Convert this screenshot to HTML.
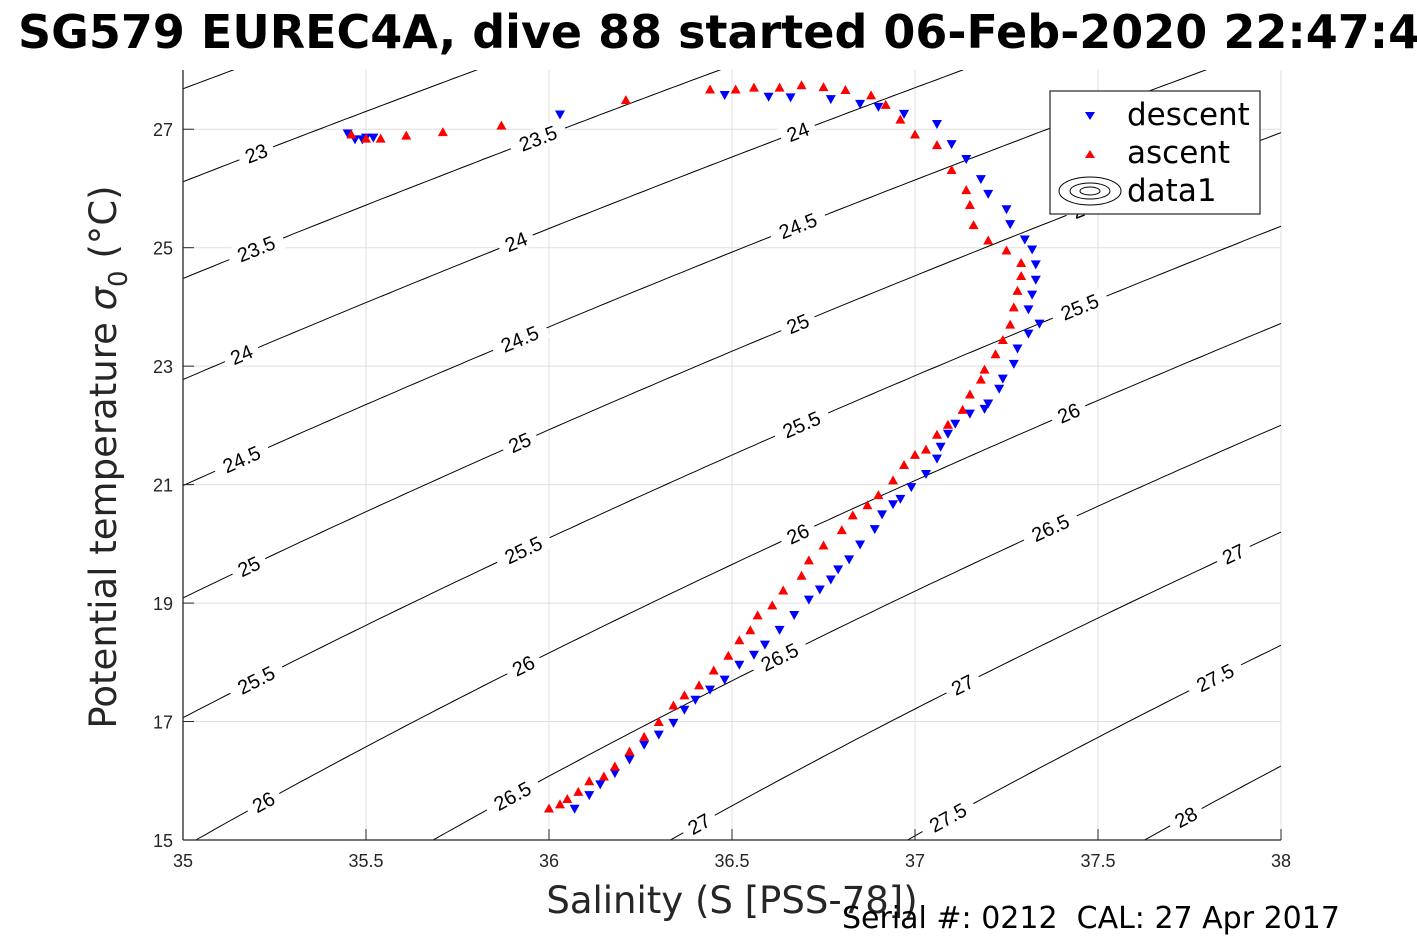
<!DOCTYPE html>
<html><head><meta charset="utf-8"><style>
html,body{margin:0;padding:0;background:#fff;overflow:hidden;}
svg{display:block;font-family:"Liberation Sans","DejaVu Sans",sans-serif;}
</style></head><body>
<svg id="chart" width="1417" height="945" viewBox="0 0 1417 945" xmlns="http://www.w3.org/2000/svg">
<defs><clipPath id="plotclip"><rect x="183" y="70" width="1098" height="770"/></clipPath></defs>
<rect width="1417" height="945" fill="#fff"/>
<text x="18" y="48" font-size="46" font-weight="bold" fill="#000" font-family="DejaVu Sans, sans-serif">SG579 EUREC4A, dive 88 started 06-Feb-2020 22:47:4</text>
<g id="grid"></g>
<g id="contours" clip-path="url(#plotclip)"></g>
<g id="clabels"></g>
<g id="series" clip-path="url(#plotclip)"></g>
<g id="axes"></g>
<text x="732" y="913" font-size="37" fill="#262626" text-anchor="middle" font-family="DejaVu Sans, sans-serif">Salinity (S [PSS-78])</text>
<text transform="translate(116,457) rotate(-90)" font-size="37" fill="#262626" text-anchor="middle" font-family="DejaVu Sans, sans-serif">Potential temperature <tspan font-style="italic">σ</tspan><tspan font-size="26" dy="11">0</tspan><tspan dy="-11"> (°C)</tspan></text>
<text x="842" y="928" font-size="30" fill="#000" font-family="DejaVu Sans, sans-serif" xml:space="preserve" style="white-space:pre">Serial #: 0212  CAL: 27 Apr 2017</text>
<g>
<rect x="1050" y="91" width="210" height="123" fill="#fff" stroke="#262626" stroke-width="1.2"/>
<polygon points="1085,112 1095,112 1090,120" fill="#0000ff"/>
<text x="1127" y="125" font-size="31" font-family="DejaVu Sans, sans-serif">descent</text>
<polygon points="1085,158 1095,158 1090,150" fill="#ff0000"/>
<text x="1127" y="163" font-size="31" font-family="DejaVu Sans, sans-serif">ascent</text>
<g fill="none" stroke="#000" stroke-width="1">
<ellipse cx="1090" cy="191" rx="31" ry="14"/><ellipse cx="1090" cy="191" rx="20" ry="8"/><ellipse cx="1090" cy="191" rx="10" ry="4"/></g>
<text x="1127" y="201" font-size="31" font-family="DejaVu Sans, sans-serif">data1</text>
</g>
</svg>
<script>
const xTicks=[35,35.5,36,36.5,37,37.5,38];
const xTickLabels=["35","35.5","36","36.5","37","37.5","38"];
const yTicks=[15,17,19,21,23,25,27];
const yTickLabels=["15","17","19","21","23","25","27"];
const sigmaLevels=[22.5,23,23.5,24,24.5,25,25.5,26,26.5,27,27.5,28];
const labelLevels=[23,23.5,23.5,24,24,24,24.5,24.5,24.5,25,25,25,25,25.5,25.5,25.5,25.5,26,26,26,26,26.5,26.5,26.5,27,27,27,27.5,27.5,28];
const labelSal=[35.2,35.2,35.97,35.16,35.91,36.68,35.16,35.92,36.68,35.18,35.92,36.68,37.46,35.2,35.93,36.69,37.45,35.22,35.93,36.68,37.42,35.9,36.63,37.37,36.41,37.13,37.87,37.09,37.82,37.74];
const descS=[36.07,36.11,36.14,36.18,36.22,36.26,36.3,36.34,36.37,36.4,
 36.44,36.48,36.52,36.56,36.59,36.63,36.67,36.71,36.74,36.77,
 36.79,36.82,36.85,36.89,36.91,36.94,36.96,36.99,37.03,37.06,
 37.07,37.09,37.11,37.15,37.19,37.2,37.23,37.24,37.27,37.28,
 37.31,37.34,37.31,37.32,37.33,37.33,37.32,37.3,37.26,37.25,
 37.2,37.18,37.14,37.1,37.06,36.97,36.9,36.85,36.77,36.66,
 36.6,36.48,36.03,35.45,35.47,35.49,35.5,35.52];
const descT=[15.52,15.75,15.93,16.12,16.35,16.6,16.77,16.97,17.19,17.36,
 17.53,17.7,17.95,18.12,18.29,18.54,18.79,19.05,19.22,19.39,
 19.56,19.73,19.98,20.24,20.49,20.66,20.75,20.95,21.17,21.43,
 21.63,21.85,22.02,22.19,22.27,22.36,22.61,22.78,23.03,23.29,
 23.54,23.71,23.95,24.2,24.45,24.71,24.96,25.13,25.39,25.64,
 25.9,26.15,26.49,26.74,27.08,27.25,27.37,27.42,27.5,27.53,
 27.54,27.57,27.24,26.92,26.82,26.82,26.85,26.85];
const ascS=[36.0,36.03,36.05,36.08,36.11,36.15,36.18,36.22,36.26,36.3,
 36.34,36.37,36.41,36.45,36.49,36.52,36.55,36.57,36.61,36.64,
 36.69,36.71,36.75,36.8,36.83,36.87,36.9,36.94,36.97,37.0,
 37.03,37.06,37.09,37.13,37.15,37.18,37.19,37.22,37.24,37.26,
 37.27,37.28,37.29,37.29,37.25,37.2,37.16,37.15,37.14,37.1,
 37.06,37.0,36.96,36.92,36.88,36.81,36.75,36.69,36.63,36.56,
 36.51,36.44,36.21,35.87,35.71,35.61,35.54,35.5,35.46];
const ascT=[15.54,15.61,15.7,15.82,16.0,16.08,16.25,16.5,16.75,17.0,
 17.28,17.45,17.62,17.87,18.12,18.38,18.55,18.8,18.97,19.22,
 19.47,19.73,19.98,20.24,20.49,20.66,20.83,21.08,21.34,21.51,
 21.6,21.85,22.02,22.27,22.53,22.78,22.95,23.21,23.45,23.71,
 24.0,24.28,24.53,24.75,24.96,25.13,25.39,25.73,25.98,26.32,
 26.74,26.92,27.17,27.42,27.58,27.67,27.72,27.75,27.71,27.71,
 27.68,27.68,27.5,27.07,26.96,26.9,26.85,26.85,26.92];

const NS='http://www.w3.org/2000/svg';
const X0=183,X1=1281,Y0=840,Y1=70,SMIN=35,SMAX=38,TMIN=15,TMAX=28;
const sx=s=>X0+(s-SMIN)/(SMAX-SMIN)*(X1-X0);
const ty=t=>Y0-(t-TMIN)/(TMAX-TMIN)*(Y0-Y1);
function mk(tag,attrs,parent){const e=document.createElementNS(NS,tag);for(const k in attrs)e.setAttribute(k,attrs[k]);parent.appendChild(e);return e;}
function sigma0(S,T){
 const rw=999.842594+6.793952e-2*T-9.095290e-3*T*T+1.001685e-4*T**3-1.120083e-6*T**4+6.536332e-9*T**5;
 const A=8.24493e-1-4.0899e-3*T+7.6438e-5*T*T-8.2467e-7*T**3+5.3875e-9*T**4;
 const B=-5.72466e-3+1.0227e-4*T-1.6546e-6*T*T;
 return rw+A*S+B*Math.pow(S,1.5)+4.8314e-4*S*S-1000;}
function solveT(S,sig){let lo=0,hi=40;for(let i=0;i<50;i++){const m=(lo+hi)/2;if(sigma0(S,m)>sig)lo=m;else hi=m;}return (lo+hi)/2;}

const grid=document.getElementById('grid'),axes=document.getElementById('axes');
xTicks.forEach((v,i)=>{
 const g=mk('line',{x1:sx(v),x2:sx(v),y1:Y1,y2:Y0,stroke:'#dfdfdf','stroke-width':1},grid);
 
 const t=mk('line',{x1:sx(v),x2:sx(v),y1:Y0,y2:Y0-11,stroke:'#262626','stroke-width':1},axes);
 
 const l=mk('text',{x:sx(v),y:Y0+27,'font-size':18,fill:'#262626','text-anchor':'middle'},axes);
 l.textContent=xTickLabels[i];
});
yTicks.forEach((v,i)=>{
 const g=mk('line',{x1:X0,x2:X1,y1:ty(v),y2:ty(v),stroke:'#dfdfdf','stroke-width':1},grid);
 
 const t=mk('line',{x1:X0,x2:X0+11,y1:ty(v),y2:ty(v),stroke:'#262626','stroke-width':1},axes);
 
 const l=mk('text',{x:X0-10,y:ty(v)+7,'font-size':18,fill:'#262626','text-anchor':'end'},axes);
 l.textContent=yTickLabels[i];
});
const xa=mk('line',{x1:X0,x2:X1,y1:Y0,y2:Y0,stroke:'#262626','stroke-width':1.3},axes);

const ya=mk('line',{x1:X0,x2:X0,y1:Y0,y2:Y1,stroke:'#262626','stroke-width':1.3},axes);


const cg=document.getElementById('contours');
sigmaLevels.forEach(sig=>{
 let d='';for(let k=0;k<=150;k++){const S=SMIN+k*(SMAX-SMIN)/150;const T=solveT(S,sig);d+=(k?'L':'M')+sx(S).toFixed(1)+','+ty(T).toFixed(1);}
 const p=mk('path',{d:d,fill:'none',stroke:'#000','stroke-width':1},cg);
 
});
const lg=document.getElementById('clabels');
labelLevels.forEach((sig,i)=>{
 const S=labelSal[i],T=solveT(S,sig);const x=sx(S),y=ty(T);
 const x2=sx(S+0.01),y2=ty(solveT(S+0.01,sig));const ang=Math.atan2(y2-y,x2-x)*180/Math.PI;
 const txt=String(sig);const w=txt.length*11+14;
 const g=mk('g',{transform:`translate(${x},${y}) rotate(${ang})`},lg);
 
 mk('rect',{x:-w/2,y:-10,width:w,height:20,fill:'#fff'},g);
 const t=mk('text',{x:0,y:7,'font-size':20,'text-anchor':'middle',fill:'#000'},g);t.textContent=txt;
});
const sg=document.getElementById('series');
descS.forEach((s,i)=>{const x=sx(s),y=ty(descT[i]);
 const p=mk('polygon',{points:`${x-5},${y-4.5} ${x+5},${y-4.5} ${x},${y+4.5}`,fill:'#0000ff'},sg);
 });
ascS.forEach((s,i)=>{const x=sx(s),y=ty(ascT[i]);
 const p=mk('polygon',{points:`${x-5},${y+4.5} ${x+5},${y+4.5} ${x},${y-4.5}`,fill:'#ff0000'},sg);
 });
</script>
</body></html>
